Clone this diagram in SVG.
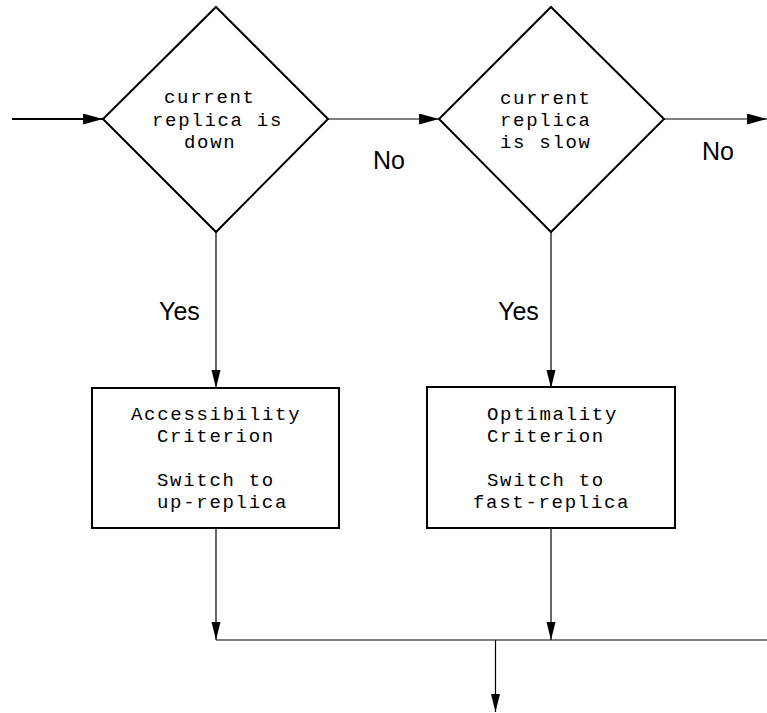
<svg xmlns="http://www.w3.org/2000/svg" width="767" height="713" viewBox="0 0 767 713">
<style>
.shape{fill:#fff;stroke:#000;stroke-width:2}
.mono{font-family:"Liberation Mono","Courier New",monospace;font-size:19px;letter-spacing:1.7px;fill:#000}
.lbl{font-family:"Liberation Sans",Arial,sans-serif;font-size:25px;fill:#000}
.conn{stroke:#000;stroke-width:1.2;fill:none}
</style>
<defs>
<marker id="ah" markerUnits="userSpaceOnUse" markerWidth="20" markerHeight="12" refX="20" refY="5.5" orient="auto">
<path d="M0,0 L20,5.5 L0,11 Z" fill="#000"/>
</marker>
<marker id="av" markerUnits="userSpaceOnUse" markerWidth="18" markerHeight="10" refX="18" refY="4.5" orient="auto">
<path d="M0,0 L18,4.5 L0,9 Z" fill="#000"/>
</marker>
</defs>
<g id="connectors">
<line x1="12" y1="119" x2="103" y2="119" stroke="#000" stroke-width="2" marker-end="url(#ah)"/>
<line class="conn" x1="328" y1="119" x2="439" y2="119" marker-end="url(#ah)"/>
<line class="conn" x1="664" y1="119" x2="767" y2="119" marker-end="url(#ah)"/>
<line class="conn" x1="216" y1="232" x2="216" y2="388" marker-end="url(#av)"/>
<line class="conn" x1="551" y1="232" x2="551" y2="388" marker-end="url(#av)"/>
<line class="conn" x1="216" y1="528" x2="216" y2="640" marker-end="url(#av)"/>
<line class="conn" x1="551" y1="528" x2="551" y2="640" marker-end="url(#av)"/>
<line class="conn" x1="216" y1="640" x2="767" y2="640"/>
<line class="conn" x1="495.5" y1="640" x2="495.5" y2="712" marker-end="url(#av)"/>
<text class="lbl" x="373" y="169">No</text>
<text class="lbl" x="702" y="160">No</text>
<text class="lbl" x="159" y="320">Yes</text>
<text class="lbl" x="498" y="320">Yes</text>
</g>
<g id="down">
<polygon class="shape" points="216,7 328,119 216,232 103,119"/>
<text class="mono" x="164" y="103">current</text>
<text class="mono" x="152" y="126">replica is</text>
<text class="mono" x="184" y="148">down</text>
</g>
<g id="slow">
<polygon class="shape" points="551,7 664,119 551,232 439,119"/>
<text class="mono" x="500" y="104">current</text>
<text class="mono" x="500" y="126">replica</text>
<text class="mono" x="500" y="148">is slow</text>
</g>
<g id="accessibility">
<rect class="shape" x="92" y="388" width="247" height="140"/>
<text class="mono" x="131" y="420">Accessibility</text>
<text class="mono" x="157" y="442">Criterion</text>
<text class="mono" x="157" y="486">Switch to</text>
<text class="mono" x="157" y="508">up-replica</text>
</g>
<g id="optimality">
<rect class="shape" x="427" y="387" width="248" height="141"/>
<text class="mono" x="487" y="420">Optimality</text>
<text class="mono" x="487" y="442">Criterion</text>
<text class="mono" x="487" y="486">Switch to</text>
<text class="mono" x="473" y="508">fast-replica</text>
</g>
</svg>
